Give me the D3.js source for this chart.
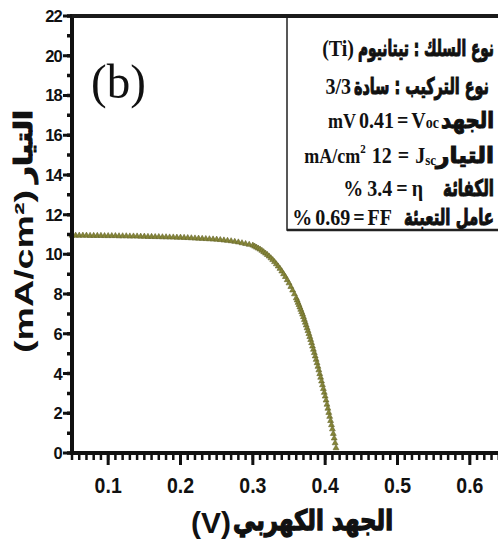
<!DOCTYPE html>
<html>
<head>
<meta charset="utf-8">
<script src="https://cdn.jsdelivr.net/npm/d3@7"></script>
<style>
body { margin: 0; background: #fff; }
svg { display: block; }
</style>
</head>
<body>
<svg id="chart"></svg>
<script>
// J-V curve (V, mA/cm2)
const voltage = [
  0.050, 0.055, 0.060, 0.065, 0.070, 0.075, 0.080, 0.085, 0.090, 0.095,
  0.100, 0.105, 0.110, 0.115, 0.120, 0.125, 0.130, 0.135, 0.140, 0.145,
  0.150, 0.155, 0.160, 0.165, 0.170, 0.175, 0.180, 0.185, 0.190, 0.195,
  0.200, 0.205, 0.210, 0.215, 0.220, 0.225, 0.230, 0.235, 0.240, 0.245,
  0.250, 0.255, 0.260, 0.265, 0.270, 0.275, 0.280, 0.285, 0.290, 0.295,
  0.3000, 0.3025, 0.3050, 0.3075, 0.3100, 0.3125, 0.3150, 0.3175, 0.3200, 0.3225,
  0.3250, 0.3275, 0.3300, 0.3325, 0.3350, 0.3375, 0.3400, 0.3425, 0.3450, 0.3475,
  0.3500, 0.3525, 0.3550, 0.3575,
  0.36000, 0.36125, 0.36250, 0.36375, 0.36500, 0.36625, 0.36750, 0.36875,
  0.37000, 0.37125, 0.37250, 0.37375, 0.37500, 0.37625, 0.37750, 0.37875,
  0.38000, 0.38125, 0.38250, 0.38375, 0.38500, 0.38625, 0.38750, 0.38875,
  0.39000, 0.39125, 0.39250, 0.39375, 0.39500, 0.39625, 0.39750, 0.39875,
  0.40000, 0.40125, 0.40250, 0.40375, 0.40500, 0.40625, 0.40750, 0.40875,
  0.41000, 0.41125, 0.41250, 0.41375, 0.41500
]
const current = [
  10.95, 10.95, 10.95, 10.95, 10.95, 10.94, 10.94, 10.94, 10.94, 10.93,
  10.93, 10.93, 10.93, 10.92, 10.92, 10.92, 10.91, 10.91, 10.91, 10.90,
  10.90, 10.89, 10.89, 10.88, 10.88, 10.87, 10.87, 10.86, 10.86, 10.85,
  10.85, 10.84, 10.83, 10.82, 10.81, 10.80, 10.79, 10.78, 10.77, 10.76,
  10.75, 10.73, 10.71, 10.69, 10.67, 10.64, 10.61, 10.57, 10.53, 10.49,
  10.45, 10.40, 10.35, 10.30, 10.25, 10.19, 10.12, 10.05, 9.98, 9.90,
  9.81, 9.72, 9.62, 9.51, 9.40, 9.28, 9.15, 9.01, 8.87, 8.71,
  8.55, 8.37, 8.19, 8.00,
  7.80, 7.69, 7.57, 7.46, 7.34, 7.22, 7.10, 6.98,
  6.85, 6.71, 6.57, 6.43, 6.29, 6.15, 6.00, 5.85,
  5.70, 5.54, 5.37, 5.21, 5.04, 4.87, 4.70, 4.53,
  4.35, 4.17, 3.98, 3.80, 3.61, 3.42, 3.23, 3.04,
  2.85, 2.65, 2.44, 2.24, 2.03, 1.83, 1.62, 1.41,
  1.20, 0.97, 0.74, 0.50, 0.25
]

const xTicks = [0.1, 0.2, 0.3, 0.4, 0.5, 0.6]
const yTicks = [0, 2, 4, 6, 8, 10, 12, 14, 16, 18, 20, 22]

const panelLabel = '(b)'
const xTitleAr = 'الجهد الكهربي'
const xTitleUnit = '(V)'
const yTitleAr = 'التيار'
const yTitleUnit = '(mA/cm²)'

// legend rows, tokens listed right to left; each token is a list of [text, style]
const legendRows = [
  [[['نوع السلك : تيتانيوم', 'ar']], [['(Ti)', 'b']]],
  [[['نوع التركيب : سادة', 'ar']], [['3/3', 'b']]],
  [[['الجهد', 'ar']], [['V', 'b'], ['oc', 'lo']], [['=', 'b']], [['0.41', 'b']], [['mV', 'm']]],
  [[['التيار', 'ar']], [['J', 'b'], ['sc', 'sub']], [['=', 'b']], [['12', 'b']], [['mA/cm', 'm'], ['2', 'sup']]],
  [[['الكفائة', 'ar']], [['η', 'b']], [['=', 'b']], [['3.4', 'b']], [['%', 'b']]],
  [[['عامل التعبئة', 'ar']], [['FF', 'b']], [['=', 'b']], [['0.69', 'b']], [['%', 'b']]]
]

// legend layout
const rowBase = [56, 94, 128, 163, 196, 225]
const rowRight = [494, 489, 494, 494, 494, 494]
const arWidth = [136, 135, 53, 58, 51, 90]
const arGap = [4, 3, 2, 0, 20, 12]
const latGap = [3, 3, 3, 6, 4, 3]

const width = 498
const height = 543
const plotLeft = 72
const plotTop = 16
const plotBottom = 453
const olive = '#858538'
const ink = '#111'

const svg = d3.select('#chart')
  .attr('width', width)
  .attr('height', height)

const x = d3.scaleLinear().domain([0.05, 0.65]).range([plotLeft, 506])
const y = d3.scaleLinear().domain([0, 22]).range([plotBottom, plotTop])

// legend box
const boxLeft = 287
const boxBottom = 230
svg.append('rect')
  .attr('x', boxLeft).attr('y', plotTop)
  .attr('width', width - boxLeft + 10).attr('height', boxBottom - plotTop)
  .attr('fill', '#fff')
  .attr('stroke', '#222').attr('stroke-width', 1.5)
svg.append('path')
  .attr('d', 'M' + boxLeft + ',' + boxBottom + 'H' + width)
  .attr('stroke', '#222').attr('stroke-width', 2.5)

// curve markers
const points = voltage.map((v, i) => [v, current[i]])
svg.append('g')
  .selectAll('path')
  .data(points)
  .enter()
  .append('path')
  .attr('d', d3.symbol().type(d3.symbolTriangle).size(15))
  .attr('transform', d => 'translate(' + x(d[0]) + ',' + y(d[1]) + ')')
  .attr('fill', olive)
  .attr('stroke', '#66662a')
  .attr('stroke-width', 0.6)

// panel label
svg.append('text')
  .attr('transform', 'translate(91,98) scale(1,1.05)')
  .attr('font-family', 'Liberation Serif, Times New Roman, serif')
  .attr('font-size', 47)
  .attr('fill', ink)
  .text(panelLabel)

// legend text
const styles = {
  ar: { family: 'DejaVu Sans, sans-serif', size: 19, weight: 'bold', dy: 0 },
  b: { family: 'Liberation Serif, serif', size: 20, weight: 'bold', dy: 0 },
  m: { family: 'Liberation Serif, serif', size: 18, weight: 'bold', dy: 0 },
  lo: { family: 'Liberation Serif, serif', size: 14, weight: 'bold', dy: 0 },
  sub: { family: 'Liberation Serif, serif', size: 13, weight: 'bold', dy: 2 },
  sup: { family: 'Liberation Serif, serif', size: 11, weight: 'bold', dy: -8 }
}

legendRows.forEach((row, r) => {
  let cx = rowRight[r]
  row.forEach(token => {
    const isAr = token[0][1] === 'ar'
    const t = svg.append('text')
      .attr('transform', 'translate(' + cx + ',' + rowBase[r] + ') scale(1,1.2)')
      .attr('text-anchor', 'end')
      .attr('fill', ink)
    let shift = 0
    token.forEach(([txt, st]) => {
      const s = styles[st]
      t.append('tspan')
        .attr('font-family', s.family)
        .attr('font-size', s.size)
        .attr('font-weight', s.weight)
        .attr('dy', s.dy - shift)
        .text(txt)
      shift = s.dy
    })
    if (isAr) {
      t.attr('textLength', arWidth[r])
        .attr('lengthAdjust', 'spacingAndGlyphs')
        .attr('stroke', ink).attr('stroke-width', 0.9)
      cx -= arWidth[r] + arGap[r]
    } else {
      cx -= t.node().getComputedTextLength() + latGap[r]
    }
  })
})

// x title
const xtRight = 393
svg.append('text')
  .attr('x', xtRight).attr('y', 530)
  .attr('text-anchor', 'end')
  .attr('font-family', 'DejaVu Sans, sans-serif')
  .attr('font-weight', 'bold')
  .attr('font-size', 28)
  .attr('textLength', 160)
  .attr('lengthAdjust', 'spacingAndGlyphs')
  .attr('stroke', ink).attr('stroke-width', 1.4)
  .attr('fill', ink)
  .text(xTitleAr)
svg.append('text')
  .attr('x', xtRight - 162).attr('y', 533)
  .attr('text-anchor', 'end')
  .attr('font-family', 'Liberation Sans, Arial, sans-serif')
  .attr('font-weight', 'bold')
  .attr('font-size', 30)
  .attr('fill', ink)
  .text(xTitleUnit)

// y title (rotated)
const yt = svg.append('g').attr('transform', 'translate(33,0) rotate(-90)')
yt.append('text')
  .attr('x', -353).attr('y', 0)
  .attr('font-family', 'Liberation Sans, Arial, sans-serif')
  .attr('font-weight', 'bold')
  .attr('font-size', 25)
  .attr('textLength', 163)
  .attr('lengthAdjust', 'spacingAndGlyphs')
  .attr('fill', ink)
  .text(yTitleUnit)
yt.append('text')
  .attr('x', -110).attr('y', -1)
  .attr('text-anchor', 'end')
  .attr('font-family', 'DejaVu Sans, sans-serif')
  .attr('font-weight', 'bold')
  .attr('font-size', 25)
  .attr('textLength', 73)
  .attr('lengthAdjust', 'spacingAndGlyphs')
  .attr('stroke', ink).attr('stroke-width', 1)
  .attr('fill', ink)
  .text(yTitleAr)

// tick labels
svg.append('g').selectAll('text')
  .data(xTicks)
  .enter().append('text')
  .attr('transform', d => 'translate(' + x(d) + ',493) scale(1,1.15)')
  .attr('text-anchor', 'middle')
  .attr('font-family', 'Liberation Sans, Arial, sans-serif')
  .attr('font-weight', 'bold')
  .attr('font-size', 19.5)
  .attr('fill', ink)
  .text(d => d.toFixed(1))

svg.append('g').selectAll('text')
  .data(yTicks)
  .enter().append('text')
  .attr('x', plotLeft - 10)
  .attr('y', d => y(d) + 6)
  .attr('text-anchor', 'end')
  .attr('font-family', 'Liberation Sans, Arial, sans-serif')
  .attr('font-weight', 'bold')
  .attr('font-size', 16.5)
  .attr('letter-spacing', -0.8)
  .attr('fill', ink)
  .text(d => d)

// tick marks, drawn last so nothing covers them
function tickPath(values, fn) {
  const p = d3.path()
  values.forEach(v => fn(p, v))
  return p.toString()
}

svg.append('path')
  .attr('d', tickPath(x.ticks(60), (p, v) => { p.moveTo(x(v), plotBottom); p.lineTo(x(v), plotBottom + 7) }))
  .attr('fill', 'none').attr('stroke', ink).attr('stroke-width', 2.5)

svg.append('path')
  .attr('d', tickPath(xTicks, (p, v) => { p.moveTo(x(v), plotBottom); p.lineTo(x(v), plotBottom + 12) }))
  .attr('fill', 'none').attr('stroke', ink).attr('stroke-width', 3)

svg.append('path')
  .attr('d', tickPath(y.ticks(22), (p, v) => { p.moveTo(plotLeft - 5, y(v)); p.lineTo(plotLeft, y(v)) }))
  .attr('fill', 'none').attr('stroke', ink).attr('stroke-width', 3.5)

svg.append('path')
  .attr('d', tickPath(yTicks, (p, v) => { p.moveTo(plotLeft - 9, y(v)); p.lineTo(plotLeft, y(v)) }))
  .attr('fill', 'none').attr('stroke', ink).attr('stroke-width', 3)

// frame lines
svg.append('path')
  .attr('d', 'M' + (plotLeft - 2) + ',' + plotBottom + 'H' + width)
  .attr('stroke', ink).attr('stroke-width', 4)
svg.append('path')
  .attr('d', 'M' + plotLeft + ',' + (plotTop - 2) + 'V' + (plotBottom + 2))
  .attr('stroke', ink).attr('stroke-width', 4)
svg.append('path')
  .attr('d', 'M' + plotLeft + ',' + plotTop + 'H' + width)
  .attr('stroke', '#1a1a1a').attr('stroke-width', 4)
</script>
</body>
</html>
